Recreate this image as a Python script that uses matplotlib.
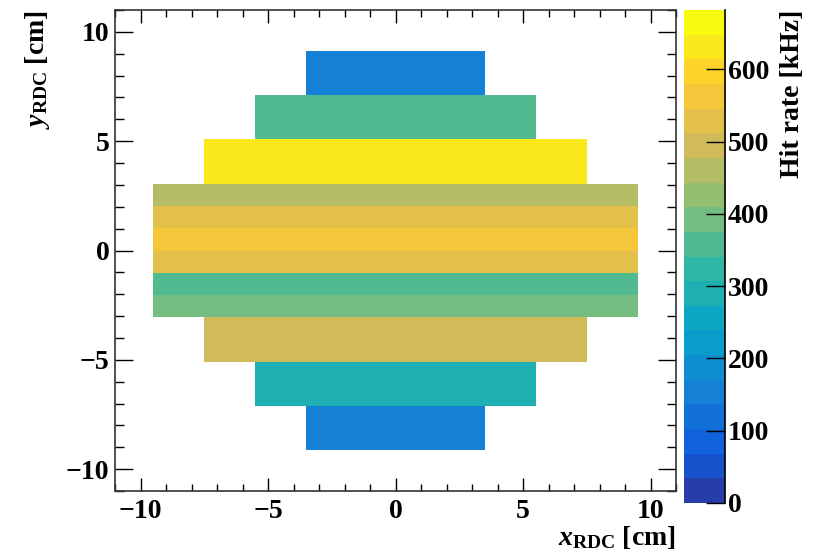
import numpy as np
import matplotlib
matplotlib.use('Agg')
import matplotlib.pyplot as plt
from matplotlib.colors import LinearSegmentedColormap, ListedColormap, BoundaryNorm
from matplotlib.ticker import MultipleLocator

plt.rcParams['font.family'] = ['Liberation Serif', 'DejaVu Serif']
plt.rcParams['font.weight'] = 'bold'
plt.rcParams['mathtext.fontset'] = 'custom'
plt.rcParams['mathtext.rm'] = 'Liberation Serif:bold'
plt.rcParams['mathtext.bf'] = 'Liberation Serif:bold'
plt.rcParams['mathtext.it'] = 'Liberation Serif:italic:bold'

# строки гистограммы снизу вверх (ширина бина по y = 1.016 см)
y_edges = [-9.144, -7.112, -5.08, -3.048, -2.032, -1.016, 0.0,
           1.016, 2.032, 3.048, 5.08, 7.112, 9.144]
x_edges = [-9.5, -7.5, -5.5, -3.5, 3.5, 5.5, 7.5, 9.5]
half_width = [3.5, 5.5, 7.5, 9.5, 9.5, 9.5, 9.5, 9.5, 9.5, 7.5, 5.5, 3.5]
hit_rate = [153, 290, 494, 392, 358, 528, 563, 528, 460, 631, 358, 153]  # kHz
z_max = 682
n_cont = 20

# палитра kBird как в ROOT
stops = np.linspace(0, 1, 9)
red = [0.2082, 0.0592, 0.0780, 0.0232, 0.1802, 0.5301, 0.8186, 0.9956, 0.9764]
green = [0.1664, 0.3599, 0.5041, 0.6419, 0.7178, 0.7492, 0.7328, 0.7862, 0.9832]
blue = [0.5293, 0.8684, 0.8385, 0.7914, 0.6425, 0.4662, 0.3499, 0.1968, 0.0539]
bird = LinearSegmentedColormap.from_list('bird', list(zip(stops, zip(red, green, blue))), N=255)
pos = [int((i + 0.99) * 255 / n_cont) / 254 for i in range(n_cont)]
cmap = ListedColormap([bird(p) for p in pos])
norm = BoundaryNorm(np.linspace(0, z_max, n_cont + 1), n_cont)

xc = 0.5 * (np.array(x_edges[:-1]) + np.array(x_edges[1:]))
Z = np.ma.masked_all((len(hit_rate), len(xc)))
for j in range(len(hit_rate)):
    for i in range(len(xc)):
        if abs(xc[i]) < half_width[j]:
            Z[j, i] = hit_rate[j]

W, H = 813, 553
fig = plt.figure(figsize=(W / 100, H / 100), dpi=100)
ax = fig.add_axes([115 / W, 1 - 491 / H, (676 - 115) / W, (491 - 10) / H])
cax = fig.add_axes([684 / W, 1 - 503 / H, 41 / W, 493 / H])

mesh = ax.pcolormesh(x_edges, y_edges, Z, cmap=cmap, norm=norm, edgecolors='none')
ax.set_xlim(-11, 11)
ax.set_ylim(-11, 11)
ax.xaxis.set_major_locator(MultipleLocator(5))
ax.xaxis.set_minor_locator(MultipleLocator(1))
ax.yaxis.set_major_locator(MultipleLocator(5))
ax.yaxis.set_minor_locator(MultipleLocator(1))
ax.tick_params(axis='x', which='major', direction='in', top=True, length=13 * 0.72, width=1, labelsize=20, pad=6)
ax.tick_params(axis='x', which='minor', direction='in', top=True, length=7 * 0.72, width=1)
ax.tick_params(axis='y', which='major', direction='in', right=True, length=18 * 0.72, width=1, labelsize=20, pad=4)
ax.tick_params(axis='y', which='minor', direction='in', right=True, length=9 * 0.72, width=1)
for s in ax.spines.values():
    s.set_linewidth(1.2)
    s.set_color('#333333')
ax.set_xticks([-10, -5, 0, 5, 10], ['\u221210', '\u22125', '0', '5', '10'])
ax.set_yticks([-10, -5, 0, 5, 10], ['\u221210', '\u22125', '0', '5', '10'])

cb = fig.colorbar(mesh, cax=cax, ticks=range(0, 700, 100))
cb.outline.set_visible(False)
cax.plot([1, 1], [0, 1], transform=cax.transAxes, color='k', lw=1.2, clip_on=False)
cax.tick_params(direction='in', length=19 * 0.72, width=1, labelsize=20, pad=2)
cax.minorticks_off()

fig.text(676 / W, 1 - 551 / H, r'$\mathit{x}_{\mathbf{RDC}}$ [cm]', ha='right', va='bottom', fontsize=20)
fig.text(38 / W, 1 - 10 / H, r'$\mathit{y}_{\mathbf{RDC}}$ [cm]', ha='center', va='top', rotation=90, fontsize=20)
fig.text(792 / W, 1 - 10 / H, 'Hit rate [kHz]', ha='center', va='top', rotation=90, fontsize=20)

fig.savefig('out.png', dpi=100)
